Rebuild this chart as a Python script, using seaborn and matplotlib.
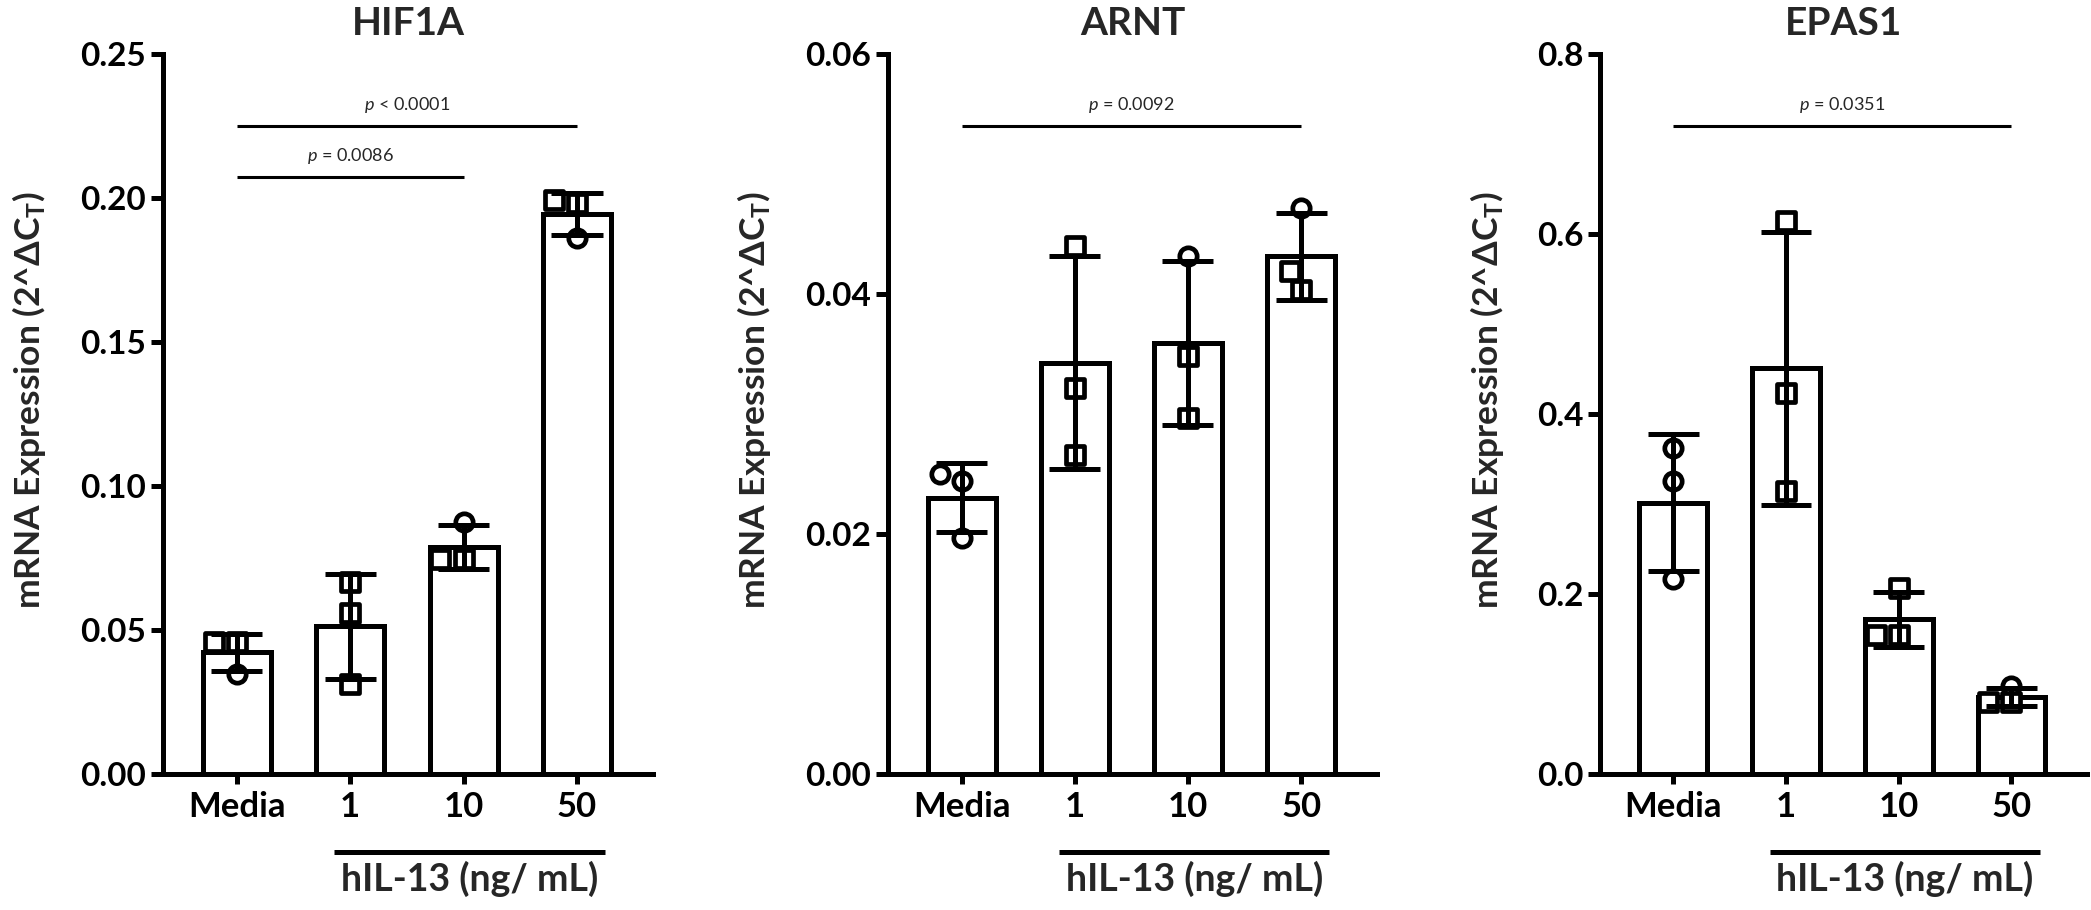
import numpy as np
import pandas as pd
import seaborn as sns
import matplotlib
matplotlib.use("Agg")
import matplotlib.pyplot as plt
from matplotlib.ticker import MultipleLocator, FormatStrFormatter
from matplotlib.transforms import blended_transform_factory

# ---------------- data ----------------
categories = ["Media", "1", "10", "50"]

hif1a_values = [[0.0459, 0.0459, 0.0348],
                [0.0668, 0.0558, 0.0312],
                [0.0875, 0.0745, 0.0745],
                [0.1993, 0.1983, 0.1862]]
hif1a_shapes = [["square", "square", "circle"],
                ["square", "square", "square"],
                ["circle", "square", "square"],
                ["square", "square", "circle"]]

arnt_values = [[0.0250, 0.0244, 0.0197],
               [0.0440, 0.0322, 0.0266],
               [0.0432, 0.0348, 0.0297],
               [0.0472, 0.0419, 0.0403]]
arnt_shapes = [["circle", "circle", "circle"],
               ["square", "square", "square"],
               ["circle", "square", "square"],
               ["circle", "square", "square"]]

epas1_values = [[0.3625, 0.3259, 0.2162],
                [0.6146, 0.4234, 0.3144],
                [0.2072, 0.1540, 0.1540],
                [0.0975, 0.0800, 0.0800]]
epas1_shapes = [["circle", "circle", "circle"],
                ["square", "square", "square"],
                ["square", "square", "square"],
                ["circle", "square", "square"]]

titles = ["HIF1A", "ARNT", "EPAS1"]
y_max = [0.25, 0.06, 0.8]
y_step = [0.05, 0.02, 0.2]
y_fmt = ["%.2f", "%.2f", "%.1f"]

hif1a_comparisons = [("Media", "50", 0.225, "$p$ < 0.0001"),
                     ("Media", "10", 0.2073, "$p$ = 0.0086")]
arnt_comparisons = [("Media", "50", 0.054, "$p$ = 0.0092")]
epas1_comparisons = [("Media", "50", 0.72, "$p$ = 0.0351")]

treatment_label = "hIL-13 (ng/ mL)"
treatment_span = ("1", "50")
y_label = "mRNA Expression (2^ΔC$_\\mathregular{T}$)"

# ---------------- style ----------------
sns.set_theme(style="ticks")
plt.rcParams["font.family"] = ["Lato", "DejaVu Sans"]
plt.rcParams["mathtext.fontset"] = "custom"
plt.rcParams["mathtext.it"] = "Lato:italic"
plt.rcParams["mathtext.rm"] = "Lato"
plt.rcParams["mathtext.bf"] = "Lato:bold"

W, H = 2091, 910
fig = plt.figure(figsize=(W / 100, H / 100), dpi=100)

axes_px = [(163, 653), (888, 1377), (1600, 2087)]
top_px, bottom_px = 54, 774
ylabel_right_px = [48, 773, 1506]

panels = [
    (hif1a_values, hif1a_shapes, hif1a_comparisons),
    (arnt_values, arnt_shapes, arnt_comparisons),
    (epas1_values, epas1_shapes, epas1_comparisons),
]

LW = 3.6
for i, (vals, shps, comps) in enumerate(panels):
    l, r = axes_px[i]
    ax = fig.add_axes([l / W, (H - bottom_px) / H, (r - l) / W, (bottom_px - top_px) / H])

    rows = []
    for cat, vlist, slist in zip(categories, vals, shps):
        for v, s in zip(vlist, slist):
            rows.append({"group": cat, "value": v, "shape": s})
    df = pd.DataFrame(rows)

    sns.barplot(data=df, x="group", y="value", order=categories,
                estimator="mean", errorbar="sd", capsize=0.45, width=0.6,
                color="white", saturation=1, edgecolor="black", linewidth=LW,
                err_kws={"color": "black", "linewidth": LW, "zorder": 3,
                         "solid_capstyle": "butt"},
                ax=ax)

    for shape, mk in [("circle", "o"), ("square", "s")]:
        sub = df[df["shape"] == shape]
        if len(sub) == 0:
            continue
        sns.swarmplot(data=sub, x="group", y="value", order=categories,
                      marker=mk, size=12.5, color="white", edgecolor="black",
                      linewidth=3.4, ax=ax, zorder=2)

    ax.set_xlim(-0.65, 3.67)
    ax.set_ylim(0, y_max[i])
    ax.yaxis.set_major_locator(MultipleLocator(y_step[i]))
    ax.yaxis.set_major_formatter(FormatStrFormatter(y_fmt[i]))
    sns.despine(ax=ax)
    for sp in ["left", "bottom"]:
        ax.spines[sp].set_linewidth(LW)
        ax.spines[sp].set_color("black")
    ax.tick_params(axis="y", width=LW, length=9, labelsize=24, pad=3, colors="black")
    ax.tick_params(axis="x", width=LW, length=7, labelsize=25, pad=5, colors="black")
    for t in ax.get_xticklabels() + ax.get_yticklabels():
        t.set_fontweight("bold")
    ax.set_xlabel("")
    ax.set_ylabel(y_label, fontsize=25.5, fontweight="bold")
    ax.yaxis.set_label_coords((ylabel_right_px[i] - l) / (r - l), 0.52)

    ax.text(0.5, 1.042, titles[i], transform=ax.transAxes, ha="center",
            va="center", fontsize=28, fontweight="bold")

    for g1, g2, yv, lab in comps:
        x0, x1 = categories.index(g1), categories.index(g2)
        ax.plot([x0, x1], [yv, yv], color="black", lw=2.2, clip_on=False,
                solid_capstyle="butt")
        ax.annotate(lab, xy=((x0 + x1) / 2, yv), xytext=(0, 8),
                    textcoords="offset points", ha="center", va="bottom",
                    fontsize=13)

    trans = blended_transform_factory(ax.transData, ax.transAxes)
    s0 = categories.index(treatment_span[0]) - 0.14
    s1 = categories.index(treatment_span[1]) + 0.25
    ax.plot([s0, s1], [-0.108, -0.108], color="black", lw=LW, transform=trans,
            clip_on=False, solid_capstyle="butt")
    ax.text((s0 + s1) / 2, -0.146, treatment_label, transform=trans,
            ha="center", va="center", fontsize=27, fontweight="bold")

fig.savefig("out.png", dpi=100, facecolor="white")
